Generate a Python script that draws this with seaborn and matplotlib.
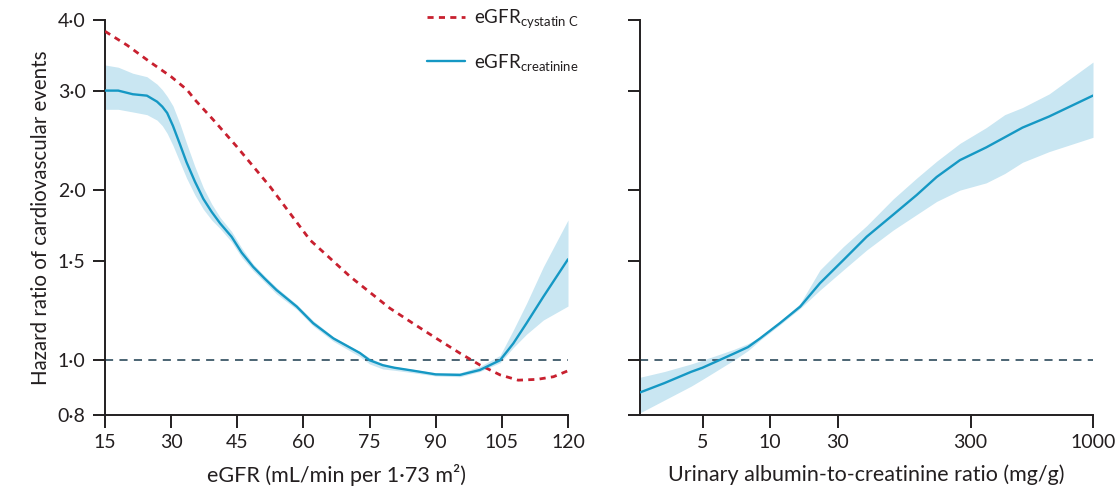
import numpy as np
import pandas as pd
import seaborn as sns
import matplotlib.pyplot as plt

# --- dados ---

# painel esquerdo: eGFR pela creatinina (linha + IC)
egfr_cr = [15, 18, 21.3, 24.5, 26.8, 28.0, 29.1, 30.4, 32.0, 33.5, 35.4, 37.3, 39.2,
           41.1, 43.7, 46.0, 48.6, 51.2, 53.9, 58.5, 62.2, 66.8, 72.8, 75, 78, 80.6,
           85, 90, 95.5, 100, 104.6, 107.6, 110.6, 114.4, 120]
hr_cr = [3.00, 3.00, 2.956, 2.939, 2.868, 2.81, 2.739, 2.60, 2.41, 2.24, 2.07, 1.93,
         1.83, 1.747, 1.654, 1.55, 1.463, 1.395, 1.331, 1.244, 1.163, 1.093, 1.03,
         1.0, 0.98, 0.97, 0.958, 0.944, 0.942, 0.961, 1.0, 1.071, 1.163, 1.295, 1.509]
hr_cr_lo = [2.78, 2.78, 2.75, 2.72, 2.66, 2.60, 2.52, 2.40, 2.24, 2.10, 1.96, 1.85,
            1.77, 1.71, 1.62, 1.52, 1.44, 1.375, 1.31, 1.23, 1.15, 1.08, 1.015, 0.985,
            0.965, 0.96, 0.95, 0.938, 0.935, 0.955, 0.99, 1.053, 1.112, 1.178, 1.247]
hr_cr_hi = [3.33, 3.30, 3.22, 3.175, 3.08, 3.01, 2.93, 2.82, 2.62, 2.42, 2.20, 2.02,
            1.89, 1.79, 1.69, 1.58, 1.48, 1.41, 1.345, 1.255, 1.175, 1.10, 1.035, 1.01,
            0.985, 0.975, 0.963, 0.95, 0.95, 0.975, 1.02, 1.131, 1.261, 1.463, 1.771]

# painel esquerdo: eGFR pela cistatina C
egfr_cys = [15, 20, 25, 30, 33.6, 35.4, 40, 44.9, 52.4, 61.5, 70.6, 79.6, 85, 90,
            95.5, 100, 104.6, 108.7, 113, 116.7, 120]
hr_cys = [3.82, 3.61, 3.38, 3.175, 3.01, 2.89, 2.64, 2.387, 2.03, 1.632, 1.406, 1.236,
          1.16, 1.095, 1.029, 0.981, 0.942, 0.922, 0.925, 0.935, 0.958]

# painel direito: razão albumina/creatinina
acr = [2.62, 3.37, 4.45, 5, 6.9, 8.0, 9.06, 11.8, 16.4, 22.6, 33.2, 49.7, 78.8, 118,
       167, 250, 350, 420, 500, 650, 1000]
hr_acr = [0.877, 0.911, 0.954, 0.970, 1.027, 1.055, 1.093, 1.163, 1.244, 1.369, 1.504,
          1.654, 1.81, 1.96, 2.11, 2.26, 2.38, 2.48, 2.58, 2.70, 2.94]
hr_acr_lo = [0.807, 0.85, 0.90, 0.925, 1.0, 1.04, 1.085, 1.155, 1.235, 1.331, 1.445,
             1.567, 1.70, 1.81, 1.91, 2.00, 2.06, 2.14, 2.24, 2.34, 2.48]
hr_acr_hi = [0.933, 0.955, 0.985, 1.0, 1.045, 1.07, 1.10, 1.17, 1.26, 1.445, 1.589,
             1.73, 1.93, 2.10, 2.25, 2.42, 2.58, 2.72, 2.80, 2.96, 3.37]

y_ticks = [0.8, 1.0, 1.5, 2.0, 3.0, 4.0]
y_ticklabels = ["0·8", "1·0", "1·5", "2·0", "3·0", "4·0"]
egfr_ticks = [15, 30, 45, 60, 75, 90, 105, 120]
acr_ticks = [5, 10, 30, 300, 1000]

# --- estilo ---
sns.set_theme(style="ticks")
plt.rcParams["font.family"] = ["Lato", "DejaVu Sans"]
plt.rcParams["mathtext.fontset"] = "custom"
plt.rcParams["mathtext.rm"] = "Lato"
plt.rcParams["mathtext.it"] = "Lato"
plt.rcParams["text.color"] = "#231f20"
plt.rcParams["axes.labelcolor"] = "#231f20"

RED = "#c8202f"
BLUE = "#1598c4"
BAND = "#c9e6f2"
REF = "#3d5868"
INK = "#231f20"

# escala do eixo x do painel direito (não é log puro: espaçamento irregular)
acr_anchor = np.log10([2.62, 5, 10, 30, 300, 1000])
acr_pos = np.array([0, 62.5, 129.6, 197.5, 330.5, 453.0])


def acr_forward(v):
    v = np.log10(np.clip(np.asarray(v, dtype=float), 1e-6, None))
    return np.interp(v, acr_anchor, acr_pos)


def acr_inverse(p):
    return 10 ** np.interp(np.asarray(p, dtype=float), acr_pos, acr_anchor)


fig = plt.figure(figsize=(11.2, 4.92), dpi=100)
ax1 = fig.add_axes([105 / 1120, 77 / 492, 463 / 1120, 395 / 492])
ax2 = fig.add_axes([640 / 1120, 77 / 492, 453 / 1120, 395 / 492])

# --- painel esquerdo ---
ax1.fill_between(egfr_cr, hr_cr_lo, hr_cr_hi, color=BAND, lw=0, zorder=1)
ax1.axhline(1.0, color=REF, lw=1.3, dashes=(4.5, 3.5), zorder=2)
sns.lineplot(x=egfr_cys, y=hr_cys, ax=ax1, color=RED, lw=2.0,
             label=r"eGFR$_{\mathrm{cystatin\ C}}$", zorder=3)
ax1.lines[-1].set_dashes((2.2, 1.9))
sns.lineplot(x=egfr_cr, y=hr_cr, ax=ax1, color=BLUE, lw=1.7,
             label=r"eGFR$_{\mathrm{creatinine}}$", zorder=4)
ax1.set_xlim(15, 120)
ax1.set_xticks(egfr_ticks)
ax1.set_xlabel("eGFR (mL/min per 1·73 m²)", fontsize=15.5, labelpad=9)
ax1.set_ylabel("Hazard ratio of cardiovascular events", fontsize=14.8, labelpad=5)
leg = ax1.legend(loc="upper left", bbox_to_anchor=(0.66, 1.075), frameon=False,
                 fontsize=13.5, handlelength=2.0, labelspacing=1.15, handletextpad=0.5)

# --- painel direito ---
ax2.set_xscale("function", functions=(acr_forward, acr_inverse))
ax2.fill_between(acr, hr_acr_lo, hr_acr_hi, color=BAND, lw=0, zorder=1)
ax2.axhline(1.0, color=REF, lw=1.3, dashes=(4.5, 3.5), zorder=2)
sns.lineplot(x=acr, y=hr_acr, ax=ax2, color=BLUE, lw=1.7, zorder=4)
ax2.set_xlim(2.62, 1000)
ax2.set_xticks(acr_ticks)
ax2.set_xticklabels([str(t) for t in acr_ticks])
ax2.set_xlabel("Urinary albumin-to-creatinine ratio (mg/g)", fontsize=15.5, labelpad=9)
ax2.set_ylabel("")

for ax in (ax1, ax2):
    ax.set_yscale("log")
    ax.set_ylim(0.8, 4.0)
    ax.set_yticks(y_ticks)
    ax.yaxis.set_minor_locator(plt.NullLocator())
    ax.xaxis.set_minor_locator(plt.NullLocator())
    ax.tick_params(axis="both", direction="out", length=9, width=1.4, colors=INK,
                   labelsize=14, pad=5)
    for s in ("left", "bottom"):
        ax.spines[s].set_linewidth(1.4)
        ax.spines[s].set_color(INK)
    sns.despine(ax=ax)

ax1.set_yticklabels(y_ticklabels)
ax2.set_yticklabels([])

fig.savefig("out.png", dpi=100)
